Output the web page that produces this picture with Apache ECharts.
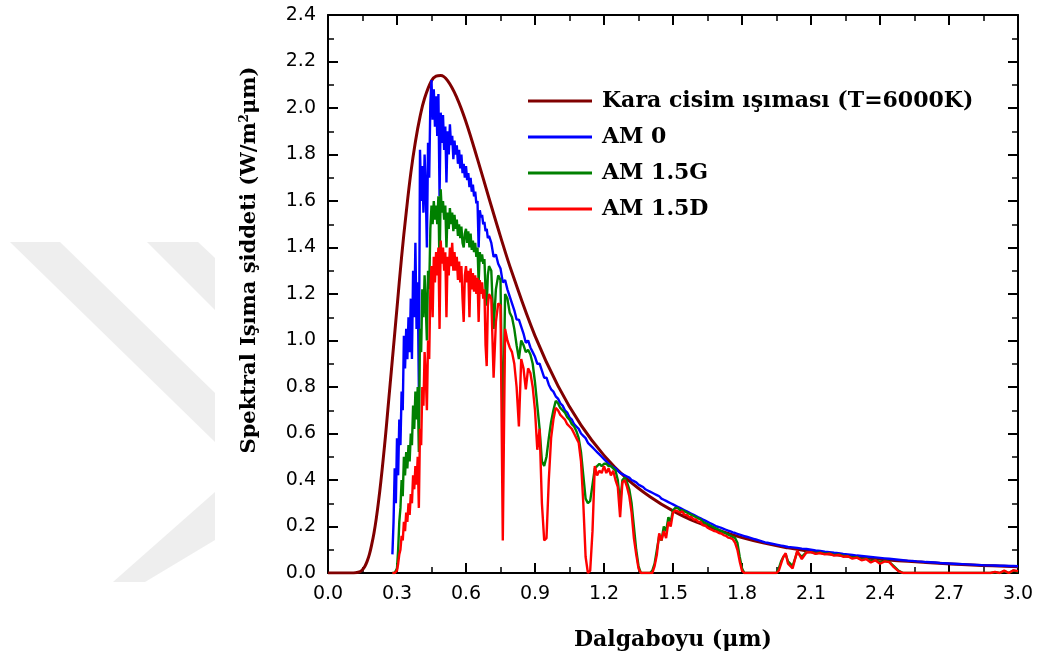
<!DOCTYPE html>
<html>
<head>
<meta charset="utf-8">
<script src="https://cdn.jsdelivr.net/npm/echarts/dist/echarts.min.js"></script>
<style>
html,body{margin:0;padding:0;background:#fff;}
#c{width:1040px;height:662px;}
</style>
</head>
<body>
<div id="c"></div>
<script>
// ---------- Data ----------
const xTickLabels = ['0.0','0.3','0.6','0.9','1.2','1.5','1.8','2.1','2.4','2.7','3.0'];
const yTickLabels = ['0.0','0.2','0.4','0.6','0.8','1.0','1.2','1.4','1.6','1.8','2.0','2.2','2.4'];
const seriesNames = ['Kara cisim ışıması (T=6000K)', 'AM 0', 'AM 1.5G', 'AM 1.5D'];

// Black body curve (smooth)
const bbX = [0, 0.05, 0.10, 0.12, 0.14, 0.15, 0.16, 0.17, 0.18, 0.19, 0.20, 0.21, 0.22, 0.23, 0.24, 0.25, 0.26, 0.27, 0.28, 0.29, 0.30, 0.32, 0.34, 0.36, 0.38, 0.40, 0.42, 0.45, 0.47, 0.49, 0.52, 0.56, 0.60, 0.65, 0.70, 0.75, 0.80, 0.90, 1.00, 1.10, 1.20, 1.30, 1.40, 1.50, 1.60, 1.80, 2.00, 2.20, 2.40, 2.60, 2.80, 3.00];
const bbY = [0, 0, 0, 0.001, 0.006, 0.014, 0.028, 0.05, 0.08, 0.122, 0.172, 0.235, 0.31, 0.395, 0.49, 0.59, 0.70, 0.81, 0.92, 1.03, 1.14, 1.36, 1.55, 1.72, 1.855, 1.962, 2.042, 2.117, 2.137, 2.14, 2.118, 2.045, 1.94, 1.78, 1.612, 1.447, 1.292, 1.02, 0.805, 0.636, 0.506, 0.405, 0.328, 0.267, 0.220, 0.152, 0.108, 0.079, 0.059, 0.045, 0.034, 0.027];

// wavelength sampling of the measured spectra (µm)
const visStart = 0.28, visStep = 0.005, visCount = 85;   // 0.280 ... 0.700
const nirStart = 0.71, nirStep = 0.01,  nirCount = 130;  // 0.71 ... 2.00
const irStart  = 2.02, irStep  = 0.02,  irCount  = 50;   // 2.02 ... 3.00

const am0Vis = [0.08,0.22,0.45,0.30,0.58,0.42,0.66,0.55,0.78,0.70,
 1.02,0.88,1.05,0.92,1.10,0.95,1.18,0.92,1.30,1.10,
 1.42,1.05,1.25,0.80,1.82,1.60,1.75,1.55,1.80,1.65,
 1.40,1.85,1.70,2.02,2.12,1.95,2.08,1.92,2.05,1.88,
 2.06,1.62,1.98,1.85,1.97,1.82,1.92,1.68,1.90,1.80,
 1.93,1.84,1.88,1.78,1.86,1.80,1.84,1.76,1.82,1.74,
 1.80,1.72,1.76,1.70,1.75,1.69,1.72,1.66,1.70,1.64,
 1.67,1.62,1.64,1.59,1.60,1.40,1.56,1.53,1.54,1.50,
 1.51,1.47,1.48,1.44,1.45];
const am0Nir = [1.42,1.36,1.37,1.33,1.31,1.25,1.26,1.22,1.19,1.16,
 1.13,1.09,1.09,1.06,1.03,0.99,1.00,0.97,0.95,0.93,
 0.90,0.90,0.87,0.84,0.84,0.81,0.79,0.78,0.76,0.75,
 0.73,0.72,0.70,0.69,0.67,0.66,0.64,0.63,0.62,0.60,
 0.59,0.58,0.56,0.55,0.54,0.53,0.52,0.51,0.50,0.49,
 0.48,0.47,0.46,0.455,0.45,0.44,0.43,0.425,0.42,0.415,
 0.41,0.40,0.395,0.39,0.38,0.375,0.37,0.36,0.355,0.35,
 0.345,0.34,0.335,0.33,0.32,0.315,0.31,0.305,0.30,0.295,
 0.29,0.285,0.28,0.275,0.27,0.265,0.26,0.255,0.25,0.245,
 0.24,0.235,0.23,0.225,0.22,0.215,0.21,0.205,0.20,0.197,
 0.194,0.19,0.186,0.182,0.179,0.175,0.172,0.168,0.165,0.162,
 0.159,0.156,0.153,0.150,0.147,0.144,0.141,0.138,0.135,0.132,
 0.130,0.128,0.126,0.124,0.122,0.120,0.118,0.116,0.114,0.112];
const am0Ir = [0.110,0.108,0.105,0.103,0.100,0.097,0.095,0.092,0.090,0.087,
 0.085,0.082,0.080,0.078,0.075,0.073,0.071,0.069,0.067,0.065,
 0.063,0.061,0.059,0.057,0.055,0.053,0.052,0.050,0.049,0.047,
 0.046,0.045,0.043,0.042,0.041,0.040,0.039,0.038,0.037,0.036,
 0.035,0.034,0.033,0.033,0.032,0.031,0.031,0.030,0.030,0.029];

const am15gVis = [0,0,0,0,0.02,0.10,0.22,0.28,0.40,0.33,
 0.50,0.42,0.52,0.45,0.55,0.48,0.60,0.55,0.72,0.62,
 0.78,0.66,0.80,0.52,1.05,0.95,1.22,1.10,1.28,1.15,
 1.00,1.30,1.22,1.48,1.58,1.50,1.60,1.52,1.58,1.50,
 1.62,1.30,1.65,1.55,1.60,1.52,1.58,1.40,1.55,1.48,
 1.57,1.50,1.55,1.47,1.54,1.48,1.52,1.45,1.50,1.44,
 1.49,1.42,1.40,1.46,1.48,1.42,1.47,1.40,1.46,1.39,
 1.43,1.38,1.42,1.36,1.40,1.25,1.38,1.34,1.37,1.33,
 1.35,1.22,1.15,1.28,1.32];
const am15gNir = [1.30,1.05,1.22,1.28,1.26,0.55,1.20,1.18,1.12,1.10,
 1.05,0.98,0.92,1.00,0.98,0.95,0.96,0.94,0.90,0.82,
 0.72,0.62,0.48,0.46,0.50,0.58,0.65,0.70,0.74,0.73,
 0.71,0.70,0.69,0.67,0.66,0.64,0.63,0.61,0.58,0.52,
 0.42,0.32,0.30,0.31,0.38,0.45,0.46,0.47,0.46,0.47,
 0.47,0.46,0.46,0.45,0.44,0.40,0.30,0.40,0.41,0.39,
 0.36,0.30,0.20,0.10,0.03,0,0,0,0,0,
 0.01,0.04,0.10,0.16,0.14,0.20,0.18,0.24,0.22,0.27,
 0.28,0.28,0.27,0.27,0.265,0.26,0.255,0.25,0.245,0.24,
 0.235,0.23,0.22,0.215,0.21,0.205,0.20,0.195,0.19,0.185,
 0.18,0.175,0.17,0.165,0.16,0.155,0.15,0.13,0.07,0.02,
 0,0,0,0,0,0,0,0,0,0,
 0,0,0,0,0,0.02,0.05,0.07,0.08,0.05];
const am15gIr = [0.03,0.09,0.07,0.09,0.09,0.085,0.088,0.083,0.084,0.078,
 0.08,0.074,0.072,0.066,0.068,0.058,0.062,0.05,0.056,0.045,
 0.052,0.048,0.03,0.01,0,0,0,0,0,0,
 0,0,0,0,0,0,0,0,0,0,
 0,0,0,0,0.004,0,0.008,0,0.01,0.006];

const am15dVis = [0,0,0,0,0.01,0.04,0.08,0.10,0.16,0.14,
 0.22,0.18,0.26,0.22,0.30,0.25,0.34,0.30,0.42,0.36,
 0.46,0.38,0.50,0.28,0.62,0.55,0.80,0.72,0.95,0.85,
 0.70,1.00,0.92,1.22,1.32,1.10,1.36,1.25,1.38,1.28,
 1.40,1.05,1.43,1.33,1.40,1.30,1.38,1.10,1.36,1.28,
 1.40,1.32,1.42,1.30,1.38,1.30,1.36,1.26,1.34,1.25,
 1.32,1.18,1.08,1.28,1.32,1.25,1.30,1.10,1.31,1.22,
 1.29,1.21,1.28,1.20,1.27,1.08,1.26,1.20,1.25,1.18,
 1.22,0.98,0.89,1.15,1.20];
const am15dNir = [1.18,0.84,1.08,1.16,1.15,0.14,1.05,1.00,0.97,0.95,
 0.90,0.80,0.63,0.92,0.88,0.79,0.88,0.86,0.80,0.70,
 0.53,0.62,0.30,0.14,0.15,0.40,0.58,0.66,0.71,0.70,
 0.68,0.67,0.66,0.64,0.63,0.62,0.60,0.58,0.56,0.48,
 0.30,0.07,0,0.01,0.18,0.46,0.42,0.44,0.43,0.46,
 0.43,0.45,0.42,0.44,0.40,0.37,0.24,0.39,0.40,0.37,
 0.33,0.26,0.15,0.08,0.02,0,0,0,0,0,
 0,0.03,0.08,0.17,0.14,0.18,0.15,0.22,0.20,0.26,
 0.27,0.265,0.26,0.265,0.25,0.25,0.24,0.24,0.23,0.23,
 0.22,0.22,0.205,0.205,0.195,0.19,0.185,0.18,0.178,0.172,
 0.17,0.163,0.16,0.152,0.15,0.145,0.13,0.10,0.05,0.01,
 0,0,0,0,0,0,0,0,0,0,
 0,0,0,0,0,0.01,0.04,0.07,0.085,0.04];
const am15dIr = [0.02,0.095,0.06,0.088,0.09,0.082,0.086,0.08,0.083,0.075,
 0.078,0.07,0.072,0.062,0.066,0.055,0.06,0.045,0.055,0.04,
 0.05,0.047,0.025,0.008,0,0,0,0,0,0,
 0,0,0,0,0,0,0,0,0,0,
 0,0,0,0,0.005,0,0.01,0,0.012,0.008];

// ---------- helpers ----------
function grid(start, step, n) {
  const out = [];
  for (let i = 0; i < n; i++) out.push(+(start + i * step).toFixed(3));
  return out;
}
const wlVis = grid(visStart, visStep, visCount);
const wlNir = grid(nirStart, nirStep, nirCount);
const wlIr  = grid(irStart, irStep, irCount);
function pairs(xs, ys) { return xs.map((x, i) => [x, ys[i]]); }
function spectrum(vis, nir, ir) {
  return pairs(wlVis, vis).concat(pairs(wlNir, nir), pairs(wlIr, ir));
}

const chart = echarts.init(document.getElementById('c'), null, {renderer: 'canvas'});

const serifBold = {fontFamily: "'DejaVu Serif', 'Liberation Serif', serif", fontWeight: 'bold', color: '#000'};
const tickFont = {fontFamily: "'DejaVu Sans', 'Liberation Sans', Arial, sans-serif", fontSize: 19, color: '#000'};

function valueAxis(base) {
  return Object.assign({
    type: 'value',
    axisLine: {show: true, onZero: false, lineStyle: {color: '#000', width: 2}},
    axisTick: {show: true, inside: true, length: 10, lineStyle: {color: '#000', width: 2}},
    minorTick: {show: true, splitNumber: 2, length: 6, lineStyle: {color: '#000', width: 1.5}},
    splitLine: {show: false},
    minorSplitLine: {show: false}
  }, base);
}

const option = {
  backgroundColor: '#ffffff',
  animation: false,
  grid: {left: 328, top: 15, width: 690, height: 558, containLabel: false, outerBoundsMode: 'none'},
  graphic: {
    elements: [
      {type: 'polygon', z: -10, shape: {points: [[10,242],[60,242],[215,393],[215,442]]}, style: {fill: '#eeeeee'}},
      {type: 'polygon', z: -10, shape: {points: [[147,242],[198,242],[215,258],[215,310]]}, style: {fill: '#eeeeee'}},
      {type: 'polygon', z: -10, shape: {points: [[215,492],[215,540],[145,582],[113,582]]}, style: {fill: '#eeeeee'}}
    ]
  },
  legend: {
    orient: 'vertical',
    left: 528,
    top: 88,
    padding: 0,
    icon: 'rect',
    itemWidth: 64,
    itemHeight: 3,
    itemGap: 10,
    data: seriesNames,
    textStyle: Object.assign({fontSize: 22, lineHeight: 26, padding: [0, 0, 0, 5]}, serifBold)
  },
  xAxis: [
    valueAxis({
      position: 'bottom', min: 0, max: 3, interval: 0.3,
      axisLabel: Object.assign({margin: 12, formatter: function (v) { const i = Math.round(v / 0.3); return xTickLabels[i] !== undefined ? xTickLabels[i] : v.toFixed(1); }}, tickFont),
      name: 'Dalgaboyu (μm)', nameLocation: 'middle', nameGap: 56,
      nameTextStyle: Object.assign({fontSize: 22}, serifBold)
    }),
    valueAxis({position: 'top', min: 0, max: 3, interval: 0.3, axisLabel: {show: false}})
  ],
  yAxis: [
    valueAxis({
      position: 'left', min: 0, max: 2.4, interval: 0.2,
      axisLabel: Object.assign({margin: 12, formatter: function (v) { const i = Math.round(v / 0.2); return yTickLabels[i] !== undefined ? yTickLabels[i] : v.toFixed(1); }}, tickFont),
      name: '{t|Spektral Işıma şiddeti (W/m}{s|2}{t|μm)}',
      nameLocation: 'middle', nameGap: 68,
      nameTextStyle: {
        padding: [0, 0, 0, 68],
        rich: {
          t: Object.assign({fontSize: 21}, serifBold),
          s: Object.assign({fontSize: 12, verticalAlign: 'top'}, serifBold)
        }
      }
    }),
    valueAxis({position: 'right', min: 0, max: 2.4, interval: 0.2, axisLabel: {show: false}})
  ],
  series: [
    {
      name: seriesNames[0], type: 'line', xAxisIndex: 0, yAxisIndex: 0,
      data: pairs(bbX, bbY), smooth: 0.4, showSymbol: false, symbol: 'none',
      lineStyle: {color: '#800000', width: 3}, itemStyle: {color: '#800000'}, z: 2
    },
    {
      name: seriesNames[1], type: 'line', data: spectrum(am0Vis, am0Nir, am0Ir),
      showSymbol: false, symbol: 'none', sampling: 'none',
      lineStyle: {color: '#0000ff', width: 2.4}, itemStyle: {color: '#0000ff'}, z: 3
    },
    {
      name: seriesNames[2], type: 'line', data: spectrum(am15gVis, am15gNir, am15gIr),
      showSymbol: false, symbol: 'none', sampling: 'none',
      lineStyle: {color: '#008000', width: 2.4}, itemStyle: {color: '#008000'}, z: 4
    },
    {
      name: seriesNames[3], type: 'line', data: spectrum(am15dVis, am15dNir, am15dIr),
      showSymbol: false, symbol: 'none', sampling: 'none',
      lineStyle: {color: '#ff0000', width: 2.4}, itemStyle: {color: '#ff0000'}, z: 5
    }
  ]
};
chart.setOption(option);
</script>
</body>
</html>
